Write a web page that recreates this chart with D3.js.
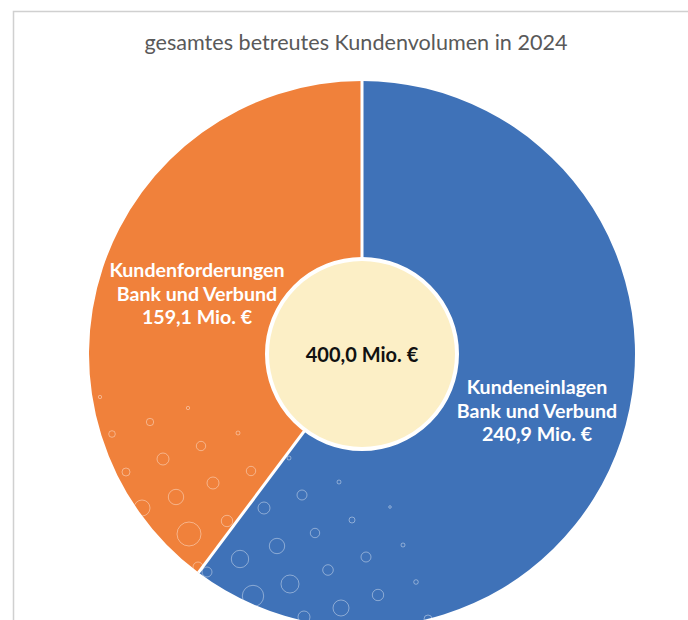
<!DOCTYPE html>
<meta charset="utf-8">
<style>
body { margin: 0; background: #fff; }
svg { display: block; font-family: Lato, "Open Sans", sans-serif; }
.frame { stroke: #d0d0d0; stroke-width: 1.5px; fill: none; }
.title { fill: #595959; font-size: 21.6px; }
.slice-label { fill: #fff; font-weight: 700; font-size: 19.6px; }
.total { fill: #111; font-weight: 700; font-size: 20px; }
.bubbles circle { fill: none; stroke: #fff; stroke-opacity: 0.5; stroke-width: 0.8px; }
</style>
<svg width="688" height="620"></svg>
<script src="https://d3js.org/d3.v7.min.js"></script>
<script>

// data
var categories = ["Kundeneinlagen", "Kundenforderungen"];
var values = [240.9, 159.1];
var colors = ["#3f72b8", "#f0813b"];
var labelLines = [
  ["Kundeneinlagen", "Bank und Verbund", "240,9 Mio. €"],
  ["Kundenforderungen", "Bank und Verbund", "159,1 Mio. €"]
];
var totalLabel = "400,0 Mio. €";
var title = "gesamtes betreutes Kundenvolumen in 2024";

// decoration bubbles: [x offset from centre, y offset from centre, r]
var bubbles = [
  [-262, 43, 1.7], [-174, 54, 1.7], [-212, 68, 3.7], [-250, 80, 3.3], [-124, 79, 2],
  [-161, 92, 4.7], [-199, 105, 6], [-236, 118, 4], [-111, 117, 4.7], [-149, 129, 6],
  [-186, 143, 7.7], [-220, 154, 8], [-135, 167, 5.7], [-173, 180, 12], [-164, 213, 5],
  [-155, 218, 5], [-73, 104, 2], [-60, 141, 5], [-98, 154, 6], [-47, 179, 4.7],
  [-85, 192, 7.7], [-122, 205, 8.7], [-72, 230, 9], [-109, 242, 10.7], [-23, 128, 2],
  [28, 153, 1.3], [-10, 166, 3], [41, 191, 2], [4, 203, 5], [-34, 216, 5.3],
  [54, 228, 2.3], [16, 241, 5.7], [-21, 254, 8], [-58, 263, 6], [66, 265, 4]
];

var svg = d3.select("svg"),
    width = +svg.attr("width"),
    height = +svg.attr("height");

var cx = 362, cy = 354, radius = 273, innerR = 95;

svg.append("path")
    .attr("class", "frame")
    .attr("d", "M13.5," + height + "V11.5H" + width);

svg.append("text")
    .attr("class", "title")
    .attr("x", 356)
    .attr("y", 50)
    .attr("text-anchor", "middle")
    .text(title);

var pie = d3.pie().sort(null).value(function(d) { return d; });
var arc = d3.arc().innerRadius(0).outerRadius(radius);
var arcs = pie(values);

var g = svg.append("g").attr("transform", "translate(" + cx + "," + cy + ")");

g.append("clipPath").attr("id", "pieclip")
  .append("circle").attr("r", radius);

g.selectAll("path.slice")
  .data(arcs)
  .enter().append("path")
    .attr("class", "slice")
    .attr("d", arc)
    .attr("fill", function(d, i) { return colors[i]; });

g.append("g")
    .attr("class", "bubbles")
    .attr("clip-path", "url(#pieclip)")
  .selectAll("circle")
  .data(bubbles)
  .enter().append("circle")
    .attr("cx", function(d) { return d[0]; })
    .attr("cy", function(d) { return d[1]; })
    .attr("r", function(d) { return d[2]; });

// white separators between slices
g.selectAll("line.sep")
  .data(arcs)
  .enter().append("line")
    .attr("class", "sep")
    .attr("x1", 0).attr("y1", 0)
    .attr("x2", function(d) { return radius * Math.sin(d.startAngle); })
    .attr("y2", function(d) { return -radius * Math.cos(d.startAngle); })
    .attr("stroke", "#fff")
    .attr("stroke-width", 3);

// slice labels
var labelPos = [[175, 40], [-165, -77]];
var labels = g.selectAll("text.slice-label")
  .data(arcs)
  .enter().append("text")
    .attr("class", "slice-label")
    .attr("text-anchor", "middle")
    .attr("transform", function(d, i) { return "translate(" + labelPos[i] + ")"; });

labels.selectAll("tspan")
  .data(function(d, i) { return labelLines[i]; })
  .enter().append("tspan")
    .attr("x", 0)
    .attr("y", function(d, j) { return j * 23.5; })
    .text(function(d) { return d; });

g.append("circle")
    .attr("r", innerR)
    .attr("fill", "#fcefc6")
    .attr("stroke", "#fff")
    .attr("stroke-width", 4);

g.append("text")
    .attr("class", "total")
    .attr("text-anchor", "middle")
    .attr("y", 8)
    .text(totalLabel);

</script>
